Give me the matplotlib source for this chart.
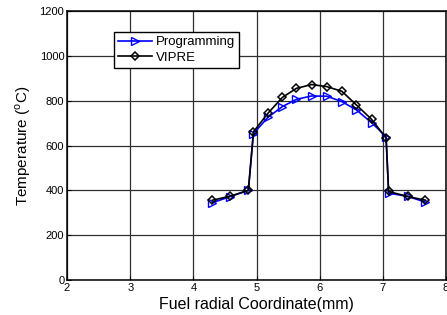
import matplotlib
matplotlib.use("Agg")
import matplotlib.pyplot as plt

plt.rcParams['font.family'] = ['Liberation Sans', 'DejaVu Sans']

# radial coordinate (mm)
r = [4.30, 4.58, 4.87, 4.95, 5.18, 5.41, 5.63, 5.87, 6.11, 6.35, 6.58, 6.82, 7.05, 7.09, 7.39, 7.67]
# temperatures (C)
t_prog = [345, 372, 400, 653, 726, 774, 806, 821, 820, 796, 759, 702, 640, 388, 373, 348]
t_vipre = [356, 374, 400, 661, 744, 815, 855, 872, 863, 842, 781, 717, 633, 395, 373, 356]

fig = plt.figure(figsize=(4.47, 3.15), dpi=100)
ax = fig.add_axes([0.150, 0.111, 0.848, 0.854])

ax.plot(r, t_prog, color='blue', marker='>', markersize=5.5, markerfacecolor='none',
        markeredgecolor='blue', linewidth=1.2, label='Programming')
ax.plot(r, t_vipre, color='black', marker='D', markersize=3.8, markerfacecolor='none',
        markeredgecolor='black', markeredgewidth=1.1, linewidth=1.2, label='VIPRE')

ax.set_xlim(2, 8)
ax.set_ylim(0, 1200)
ax.set_xticks(range(2, 9))
ax.set_yticks(range(0, 1201, 200))
ax.grid(True, color='#303030', linewidth=0.9)
for s in ax.spines.values():
    s.set_linewidth(1.1)
ax.tick_params(direction='in', labelsize=8, length=3, pad=2)
ax.set_xlabel('Fuel radial Coordinate(mm)', fontsize=11.5, labelpad=3)
ax.set_ylabel(r'Temperature ($^\mathregular{o}$C)', fontsize=11, labelpad=5)

leg = ax.legend(loc='upper left', bbox_to_anchor=(0.124, 0.922), borderaxespad=0,
                fontsize=9.5, fancybox=False, edgecolor='black', framealpha=1,
                handlelength=2.6, handletextpad=0.3, borderpad=0.3, labelspacing=0.25)
leg.get_frame().set_linewidth(1.0)

fig.savefig('out.png', dpi=100)
